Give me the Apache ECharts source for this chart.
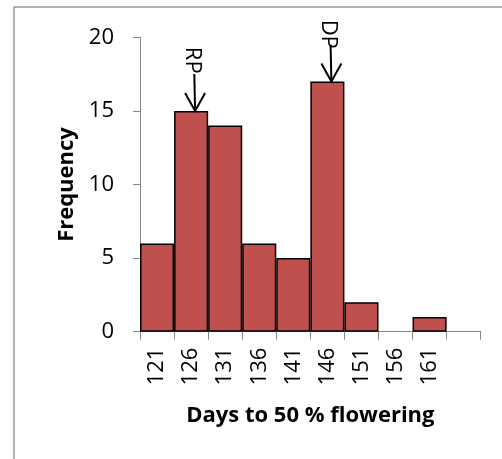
<!DOCTYPE html>
<html><head><meta charset="utf-8">
<script src="https://cdn.jsdelivr.net/npm/echarts@6/dist/echarts.min.js"></script>
<style>html,body{margin:0;padding:0;background:#fff}#c{width:502px;height:459px}</style>
</head><body><div id="c"></div>
<script>
var categories = ['121','126','131','136','141','146','151','156','161',''];
var frequency = [6, 15, 14, 6, 5, 17, 2, 0, 1, null];
var yTicks = {min: 0, max: 20, interval: 5};
var annotations = [
  {text: 'RP', category: '126', top: 19.35, arrowFrom: 17.5, arrowTo: 15},
  {text: 'DP', category: '146', top: 21.2, arrowFrom: 19.5, arrowTo: 17}
];

var chart = echarts.init(document.getElementById('c'), null, {renderer: 'canvas'});
var font = '"Open Sans", "DejaVu Sans", sans-serif';
var barData = frequency.map(function (v) {
  return v === 0 ? {value: v, itemStyle: {borderWidth: 0}} : v;
});
chart.setOption({
  animation: false,
  backgroundColor: '#fff',
  grid: {left: 140, right: 21.3, top: 37.3, bottom: 127.3, containLabel: false},
  xAxis: {
    type: 'category', data: categories,
    name: 'Days to 50 % flowering', nameLocation: 'middle', nameGap: 73,
    nameTextStyle: {fontFamily: font, fontWeight: 'bold', fontSize: 22, color: '#000'},
    axisLine: {lineStyle: {color: '#868686', width: 1}},
    axisTick: {show: true, length: 8, lineStyle: {color: '#868686'}, alignWithLabel: false},
    axisLabel: {rotate: 90, margin: 16, fontFamily: font, fontSize: 22, color: '#000', interval: 0}
  },
  yAxis: {
    type: 'value', min: yTicks.min, max: yTicks.max, interval: yTicks.interval,
    name: 'Frequency', nameLocation: 'middle', nameGap: 62,
    nameTextStyle: {fontFamily: font, fontWeight: 'bold', fontSize: 22, color: '#000'},
    axisLine: {show: true, lineStyle: {color: '#868686', width: 1}},
    axisTick: {show: true, length: 7, lineStyle: {color: '#868686'}},
    splitLine: {show: false},
    axisLabel: {margin: 26, fontFamily: font, fontSize: 22, color: '#000'}
  },
  series: [{
    type: 'bar', data: barData, barCategoryGap: 0, barGap: 0,
    itemStyle: {color: '#C0504D', borderColor: '#000', borderWidth: 1.5}
  }]
});

var g = [{
  type: 'rect', shape: {x: 14, y: 7, width: 520, height: 500},
  style: {fill: 'none', stroke: '#9a9a9a', lineWidth: 1.5}, z: 0
}];
annotations.forEach(function (a) {
  var tip = chart.convertToPixel({xAxisIndex: 0, yAxisIndex: 0}, [a.category, a.arrowTo]);
  var start = chart.convertToPixel({xAxisIndex: 0, yAxisIndex: 0}, [a.category, a.arrowFrom]);
  var topP = chart.convertToPixel({xAxisIndex: 0, yAxisIndex: 0}, [a.category, a.top]);
  var x = tip[0] + 4;
  g.push({type: 'line', shape: {x1: x - 0.8, y1: start[1], x2: x, y2: tip[1]},
    style: {stroke: '#000', lineWidth: 2}, z: 10});
  g.push({type: 'polyline', shape: {points: [[x - 10, tip[1] - 18], [x, tip[1]], [x + 10, tip[1] - 18]]},
    style: {stroke: '#000', lineWidth: 2, fill: null}, z: 10});
  g.push({type: 'text', x: x - 3, y: topP[1], rotation: -Math.PI / 2,
    style: {text: a.text, fontFamily: font, fontSize: 22, fill: '#000', textAlign: 'left', textVerticalAlign: 'middle'}, z: 11});
});
chart.setOption({graphic: g});
</script></body></html>
